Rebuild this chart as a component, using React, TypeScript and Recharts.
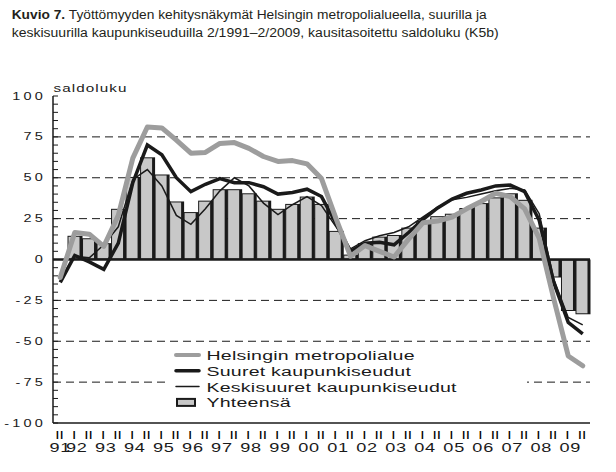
import React from 'react';
import { ComposedChart, Bar, Line, XAxis, YAxis, ReferenceLine, Legend } from 'recharts';

// half-year periods, 2/1991 – 2/2009
const periods = [
  '91/II', '92/I', '92/II', '93/I', '93/II', '94/I', '94/II', '95/I', '95/II', '96/I',
  '96/II', '97/I', '97/II', '98/I', '98/II', '99/I', '99/II', '00/I', '00/II', '01/I',
  '01/II', '02/I', '02/II', '03/I', '03/II', '04/I', '04/II', '05/I', '05/II', '06/I',
  '06/II', '07/I', '07/II', '08/I', '08/II', '09/I', '09/II',
];

const helsinki = [
  -11, 16.5, 15.5, 8, 27, 62, 81, 80.5, 73, 65,
  65.5, 71, 71.5, 68, 63, 60, 60.5, 58.5, 49.5, 25,
  2, 8.5, 5, 1.5, 12.5, 22.5, 23.5, 26, 31, 35.5,
  40.5, 38.5, 31, 13, -24, -59, -65,
];

const suuret = [
  -14, 2.5, -1.5, -6, 10, 47, 70, 64, 50, 41.5,
  46, 49.5, 47, 47, 44.5, 40, 41, 43, 38.5, 22,
  5, 10, 10.5, 9, 16.5, 24.5, 31.5, 37, 40.5, 42.5,
  45, 45.5, 41.5, 24, -14, -38.5, -45.5,
];

const keski = [
  -12, 2, 1, 9, 20, 49, 55, 45, 27, 21.5,
  31, 42, 50, 45, 34.5, 27.5, 33.5, 38.5, 33, 20,
  6.5, 11.5, 14.5, 16.5, 20, 26, 32, 36.5, 38, 40,
  42, 43.5, 42.5, 28, -12, -35.5, -40,
];

const yhteensa = [
  null, 14.5, 13, 10, 31, 50.5, 62.5, 52, 35.5, 29,
  36, 43, 43, 40.5, 36, 31, 34, 38.5, 34, 17.5,
  3, 10, 14, 15, 19.5, 23.5, 26.5, 28, 31.5, 34.5,
  38, 40.5, 36.5, 19.5, -11, -31.5, -33.5,
];

const yTicks = [
  -100, -95, -90, -85, -80, -75, -70, -65, -60, -55, -50, -45, -40, -35, -30, -25, -20, -15, -10, -5,
  0, 5, 10, 15, 20, 25, 30, 35, 40, 45, 50, 55, 60, 65, 70, 75, 80, 85, 90, 95, 100,
];
const gridValues = [-75, -50, -25, 25, 50, 75];

const legendOrder = ['helsinki', 'suuret', 'keski', 'yhteensa'];

const data = periods.map((period, i) => ({
  period,
  helsinki: helsinki[i],
  suuret: suuret[i],
  keski: keski[i],
  yhteensa: yhteensa[i],
}));

const FONT = '"Liberation Sans", Arial, sans-serif';
const INK = '#1a1a1a';
const GRAY_LINE = '#9d9d9d';
const GRAY_BAR = '#c8c8c8';

// the original is horizontally stretched, so text gets a scaleX
function SText({ x, y, anchor = 'start', size, scale = 1.45, spacing = 0, weight = 'normal', children }: any) {
  return (
    <text
      transform={`translate(${x},${y}) scale(${scale},1)`}
      textAnchor={anchor}
      fontSize={size}
      letterSpacing={spacing}
      fontWeight={weight}
      fontFamily={FONT}
      fill={INK}
    >
      {children}
    </text>
  );
}

const YTick = ({ x, y, payload }: any) => {
  const v = payload.value;
  const major = v % 25 === 0;
  return (
    <g>
      <line x1={x} x2={x + 5} y1={y} y2={y} stroke={INK} strokeWidth={1} />
      {major && (
        <SText x={x - 7} y={y + 3.5} anchor="end" size={10} spacing={2.2}>
          {v}
        </SText>
      )}
    </g>
  );
};

const XTick = ({ x, y, payload }: any) => {
  const [yr, half] = String(payload.value).split('/');
  const showYear = half === 'I' || yr === '91';
  return (
    <g>
      <text
        x={x}
        y={y + 16}
        textAnchor="middle"
        fontSize={10}
        fontWeight="bold"
        letterSpacing={1.5}
        fontFamily={FONT}
        fill="#000"
      >
        {half}
      </text>
      {showYear && (
        <SText x={x + (half === 'I' ? 2 : 0)} y={y + 29} anchor="middle" size={12.5} spacing={0.5}>
          {yr}
        </SText>
      )}
    </g>
  );
};

const ShadowBar = (props: any) => {
  const { x, y, width, height } = props;
  if (x == null || y == null || !width || !height) return null;
  const top = height < 0 ? y + height : y;
  const h = Math.abs(height);
  return (
    <g>
      <rect x={x} y={top} width={width} height={h} fill={INK} />
      <rect x={x + 1} y={top + 1} width={Math.max(0, width - 4)} height={Math.max(0, h - 2)} fill={GRAY_BAR} />
    </g>
  );
};

const ChartLegend = ({ payload }: any) => {
  const items = legendOrder
    .map((k) => (payload || []).find((p: any) => p.dataKey === k))
    .filter(Boolean);
  return (
    <svg width={357} height={72} style={{ display: 'block', background: '#fff' }}>
      {items.map((it: any, i: number) => {
        const cy = 11 + i * 15.8;
        const isBar = it.dataKey === 'yhteensa';
        const sw = it.payload?.strokeWidth ?? 2;
        return (
          <g key={it.dataKey}>
            {isBar ? (
              <rect x={7} y={cy - 3.5} width={18} height={7} fill={GRAY_BAR} stroke={INK} strokeWidth={2} />
            ) : (
              <line x1={6} x2={29} y1={cy} y2={cy} stroke={it.color} strokeWidth={Math.min(sw, 4)} strokeLinecap="round" />
            )}
            <SText x={36.5} y={cy + 5} size={13.5} spacing={0.15}>
              {it.value}
            </SText>
          </g>
        );
      })}
    </svg>
  );
};

export default function App() {
  return (
    <div style={{ position: 'absolute', left: 0, top: 0, width: 616, height: 472, background: '#fff' }}>
      <ComposedChart
        width={616}
        height={472}
        data={data}
        margin={{ top: 96, right: 26, bottom: 0, left: 0 }}
        barCategoryGap={0}
      >
        <XAxis
          dataKey="period"
          interval={0}
          height={49}
          tickLine={false}
          tickSize={0}
          tickMargin={0}
          axisLine={{ stroke: INK, strokeWidth: 1.5 }}
          tick={(p: any) => <XTick {...p} />}
        />
        <XAxis
          xAxisId="top"
          orientation="top"
          dataKey="period"
          height={0}
          tick={false}
          tickLine={false}
          axisLine={{ stroke: INK, strokeWidth: 1.5 }}
        />
        <YAxis
          domain={[-100, 100]}
          ticks={yTicks}
          interval={0}
          width={53}
          tickLine={false}
          tickSize={0}
          tickMargin={0}
          axisLine={{ stroke: INK, strokeWidth: 1.5 }}
          tick={(p: any) => <YTick {...p} />}
        />
        <YAxis
          yAxisId="right"
          orientation="right"
          domain={[-100, 100]}
          width={0}
          tick={false}
          tickLine={false}
          axisLine={{ stroke: INK, strokeWidth: 1.5 }}
        />
        {gridValues.map((v) => (
          <ReferenceLine key={v} y={v} stroke={INK} strokeWidth={1} strokeDasharray="8 5" zIndex={-100} />
        ))}
        <Legend
          layout="horizontal"
          verticalAlign="middle"
          align="center"
          width={357}
          height={72}
          wrapperStyle={{ left: 170, top: 344, width: 357, height: 72 }}
          content={(p: any) => <ChartLegend {...p} />}
        />
        <Bar dataKey="yhteensa" name="Yhteensä" fill={GRAY_BAR} shape={(p: any) => <ShadowBar {...p} />} isAnimationActive={false} />
        <ReferenceLine y={0} stroke={INK} strokeWidth={2.5} zIndex={350} />
        <Line
          dataKey="keski"
          name="Keskisuuret kaupunkiseudut"
          type="linear"
          stroke={INK}
          strokeWidth={1.5}
          dot={false}
          activeDot={false}
          isAnimationActive={false}
        />
        <Line
          dataKey="suuret"
          name="Suuret kaupunkiseudut"
          type="linear"
          stroke={INK}
          strokeWidth={3.5}
          dot={false}
          activeDot={false}
          isAnimationActive={false}
        />
        <Line
          dataKey="helsinki"
          name="Helsingin metropolialue"
          type="linear"
          stroke={GRAY_LINE}
          strokeWidth={5}
          strokeLinejoin="round"
          strokeLinecap="round"
          dot={false}
          activeDot={false}
          isAnimationActive={false}
        />
      </ComposedChart>
      <svg
        width={616}
        height={100}
        style={{ position: 'absolute', left: 0, top: 0, pointerEvents: 'none' }}
      >
        <text x={11.7} y={19} fontSize={12.5} fontFamily={FONT} fill="#231f20" textLength={475} lengthAdjust="spacingAndGlyphs">
          <tspan fontWeight="bold">Kuvio 7.</tspan> Työttömyyden kehitysnäkymät Helsingin metropolialueella, suurilla ja
        </text>
        <text x={11.7} y={37} fontSize={12.5} fontFamily={FONT} fill="#231f20" textLength={487} lengthAdjust="spacingAndGlyphs">
          keskisuurilla kaupunkiseuduilla 2/1991–2/2009, kausitasoitettu saldoluku (K5b)
        </text>
        <SText x={53.5} y={91.5} size={10.5} spacing={0.75}>
          saldoluku
        </SText>
      </svg>
    </div>
  );
}
